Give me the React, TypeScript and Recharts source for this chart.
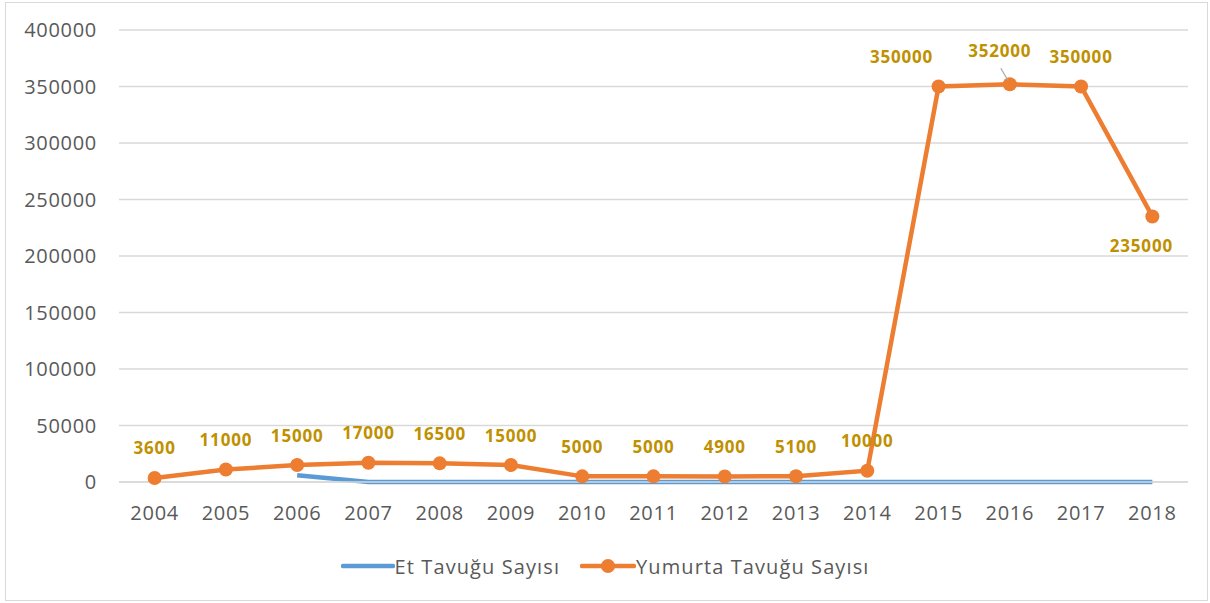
import { LineChart, Line, XAxis, YAxis, CartesianGrid, Legend, LabelList } from "recharts";

const years = ["2004", "2005", "2006", "2007", "2008", "2009", "2010", "2011", "2012", "2013", "2014", "2015", "2016", "2017", "2018"];
const etTavugu = [null, null, 6000, 0, 0, 0, 0, 0, 0, 0, 0, 0, 0, 0, 0];
const yumurtaTavugu = [3600, 11000, 15000, 17000, 16500, 15000, 5000, 5000, 4900, 5100, 10000, 350000, 352000, 350000, 235000];
const yTicks = [0, 50000, 100000, 150000, 200000, 250000, 300000, 350000, 400000];

const data = years.map((y, i) => ({ year: y, et: etTavugu[i], yumurta: yumurtaTavugu[i] }));

const FONT = "'Open Sans', 'Noto Sans', sans-serif";
const BLUE = "#5B9BD5";
const ORANGE = "#ED7D31";
const GOLD = "#BF9000";

// manual nudges for labels that Excel moved off the line
const labelNudge: Record<number, { dx: number; dy: number; leader?: boolean }> = {
  11: { dx: -37, dy: 0 },
  12: { dx: -10, dy: -4, leader: true },
  14: { dx: -11, dy: 59 },
};

function PointLabel(props: any) {
  const { x, y, value, index } = props;
  const n = labelNudge[index] || { dx: 0, dy: 0 };
  const lx = x + n.dx;
  const ly = y - 30 + n.dy;
  return (
    <g>
      {n.leader && <line x1={x - 2} y1={y - 4} x2={x - 9} y2={y - 16} stroke="#A6A6A6" strokeWidth={1.2} />}
      <text x={lx} y={ly} textAnchor="middle" dominantBaseline="central" fill={GOLD} fontFamily={FONT} fontWeight={700} fontSize={17} letterSpacing={0.8}>
        {value}
      </text>
    </g>
  );
}

function LegendContent() {
  const txt = { fontFamily: FONT, fontSize: 20, color: "#595959", letterSpacing: 1.1 };
  return (
    <div style={{ display: "flex", justifyContent: "center", alignItems: "center", height: 30, gap: 20 }}>
      <span style={{ display: "flex", alignItems: "center" }}>
        <svg width={54} height={14}>
          <line x1={2} y1={7} x2={52} y2={7} stroke={BLUE} strokeWidth={4.5} strokeLinecap="round" />
        </svg>
        <span style={txt}>Et Tavuğu Sayısı</span>
      </span>
      <span style={{ display: "flex", alignItems: "center" }}>
        <svg width={56} height={16}>
          <line x1={2} y1={8} x2={54} y2={8} stroke={ORANGE} strokeWidth={4.5} strokeLinecap="round" />
          <circle cx={28} cy={8} r={7} fill={ORANGE} />
        </svg>
        <span style={txt}>Yumurta Tavuğu Sayısı</span>
      </span>
    </div>
  );
}

export default function App() {
  return (
    <div style={{ position: "absolute", left: 0, top: 0, width: 1210, height: 603, background: "#fff" }}>
      <div style={{ position: "absolute", left: 5, top: 2, width: 1201, height: 597, border: "1px solid #D9D9D9" }} />
      <LineChart width={1210} height={603} data={data} margin={{ top: 30, right: 22, left: 0, bottom: 51 }}>
        <CartesianGrid vertical={false} stroke="#D9D9D9" strokeWidth={1.3} />
        <XAxis
          dataKey="year"
          scale="band"
          height={40}
          axisLine={{ stroke: "#D9D9D9", strokeWidth: 1.3 }}
          tickLine={false}
          tickMargin={18}
          tick={{ fill: "#595959", fontFamily: FONT, fontSize: 20, letterSpacing: 0.7 }}
        />
        <YAxis
          width={119}
          domain={[0, 400000]}
          ticks={yTicks}
          axisLine={false}
          tickLine={false}
          tickMargin={16}
          tick={{ fill: "#595959", fontFamily: FONT, fontSize: 20, letterSpacing: 0.7 }}
        />
        <Legend content={<LegendContent />} wrapperStyle={{ top: 551, left: 0, width: 1210 }} />
        <Line
          dataKey="et"
          name="Et Tavuğu Sayısı"
          stroke={BLUE}
          strokeWidth={4.5}
          dot={false}
          activeDot={false}
          connectNulls={false}
          isAnimationActive={false}
        />
        <Line
          dataKey="yumurta"
          name="Yumurta Tavuğu Sayısı"
          stroke={ORANGE}
          strokeWidth={4.5}
          dot={{ r: 7, fill: ORANGE, stroke: ORANGE, strokeWidth: 0 }}
          activeDot={false}
          isAnimationActive={false}
        >
          <LabelList dataKey="yumurta" content={<PointLabel />} />
        </Line>
      </LineChart>
    </div>
  );
}
